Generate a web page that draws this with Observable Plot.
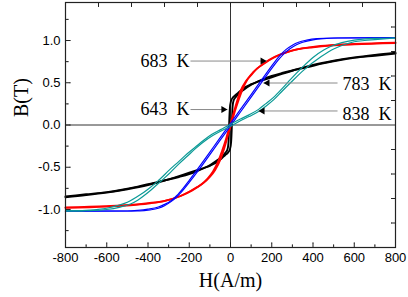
<!DOCTYPE html>
<html><head><meta charset="utf-8">
<script src="https://cdn.jsdelivr.net/npm/d3@7"></script>
<script src="https://cdn.jsdelivr.net/npm/@observablehq/plot@0.6"></script>
<style>html,body{margin:0;padding:0;background:#fff}</style>
</head><body><div id="chart"></div>
<script>
// ---- data (H in A/m, B in T) ----
const black643Desc = [[-800,-0.845],[-700,-0.82],[-600,-0.795],[-533,-0.77],[-450,-0.73],[-373,-0.685],[-300,-0.645],[-250,-0.615],[-200,-0.58],[-162,-0.545],[-120,-0.5],[-97,-0.47],[-63,-0.415],[-40,-0.37],[-25,-0.33],[-15,-0.29],[-10,-0.22],[-8,-0.1],[-6,0.05],[-3,0.2],[2,0.28],[10,0.32],[20,0.345],[32,0.37],[50,0.41],[63,0.435],[97,0.48],[130,0.51],[162,0.535],[200,0.565],[250,0.605],[323,0.66],[400,0.71],[500,0.76],[600,0.8],[700,0.83],[800,0.855]];
const black643Asc = [[-800,-0.855],[-700,-0.83],[-600,-0.8],[-500,-0.76],[-400,-0.71],[-323,-0.66],[-250,-0.605],[-200,-0.565],[-162,-0.535],[-130,-0.51],[-97,-0.48],[-63,-0.435],[-50,-0.41],[-32,-0.37],[-20,-0.345],[-10,-0.32],[-2,-0.28],[3,-0.2],[6,-0.05],[8,0.1],[10,0.22],[15,0.29],[25,0.33],[40,0.37],[63,0.415],[97,0.47],[120,0.5],[162,0.545],[200,0.58],[250,0.615],[300,0.645],[373,0.685],[450,0.73],[533,0.77],[600,0.795],[700,0.82],[800,0.845]];
const red683Desc = [[-800,-0.975],[-600,-0.96],[-485,-0.945],[-400,-0.925],[-323,-0.9],[-242,-0.84],[-190,-0.78],[-145,-0.71],[-110,-0.63],[-85,-0.55],[-60,-0.43],[-40,-0.3],[-20,-0.15],[-5,-0.02],[10,0.1],[30,0.27],[48,0.4],[75,0.52],[100,0.59],[130,0.67],[162,0.725],[200,0.785],[242,0.835],[290,0.875],[323,0.895],[400,0.925],[485,0.945],[600,0.96],[800,0.975]];
const red683Asc = [[-800,-0.98],[-600,-0.965],[-485,-0.95],[-400,-0.93],[-323,-0.9],[-290,-0.88],[-242,-0.84],[-200,-0.79],[-162,-0.735],[-130,-0.685],[-100,-0.615],[-75,-0.535],[-48,-0.405],[-30,-0.275],[-10,-0.1],[5,0.02],[20,0.15],[40,0.3],[60,0.43],[85,0.55],[110,0.625],[145,0.7],[190,0.775],[242,0.835],[323,0.895],[400,0.92],[485,0.94],[600,0.955],[800,0.97]];
const blue783Desc = [[-800,-1.02],[-500,-1.018],[-450,-1.01],[-400,-0.995],[-350,-0.97],[-320,-0.94],[-290,-0.9],[-260,-0.835],[-230,-0.75],[-200,-0.655],[-150,-0.49],[-100,-0.32],[-50,-0.15],[0,0.02],[50,0.19],[100,0.36],[150,0.53],[200,0.7],[240,0.825],[270,0.895],[300,0.945],[330,0.98],[370,1.005],[420,1.022],[500,1.03],[800,1.035]];
const blue783Asc = [[-800,-1.02],[-440,-1.018],[-390,-1.005],[-350,-0.985],[-320,-0.955],[-290,-0.91],[-260,-0.85],[-230,-0.77],[-200,-0.68],[-150,-0.52],[-100,-0.35],[-50,-0.18],[0,-0.01],[50,0.16],[100,0.33],[150,0.5],[200,0.67],[230,0.765],[260,0.845],[290,0.905],[320,0.95],[350,0.98],[400,1.008],[450,1.022],[520,1.03],[800,1.035]];
const teal838Desc = [[-800,-1.015],[-700,-1.01],[-650,-1.0],[-600,-0.985],[-550,-0.955],[-500,-0.915],[-440,-0.83],[-400,-0.76],[-355,-0.67],[-291,-0.52],[-250,-0.43],[-210,-0.34],[-170,-0.26],[-130,-0.18],[-90,-0.11],[-48,-0.055],[0,0.01],[48,0.07],[90,0.12],[136,0.185],[170,0.25],[210,0.33],[250,0.43],[291,0.54],[349,0.685],[400,0.8],[450,0.885],[485,0.93],[540,0.975],[600,1.005],[700,1.025],[800,1.03]];
const teal838Asc = [[-800,-1.02],[-700,-1.015],[-600,-1.0],[-540,-0.975],[-485,-0.935],[-450,-0.89],[-400,-0.8],[-349,-0.69],[-291,-0.56],[-250,-0.46],[-210,-0.37],[-170,-0.28],[-136,-0.21],[-90,-0.13],[-48,-0.075],[0,-0.015],[48,0.05],[90,0.1],[136,0.16],[170,0.22],[210,0.3],[250,0.4],[291,0.5],[355,0.65],[440,0.81],[500,0.9],[550,0.95],[600,0.985],[650,1.0],[700,1.01],[800,1.03]];

// annotations
const labelNames = ["683 K", "643 K", "783 K", "838 K"];
const labelSide = ["left", "left", "right", "right"];
const labelTextB = [0.757, 0.189, 0.485, 0.130];
const arrowTailH = [-194, -194, 519, 519];
const arrowTipH = [175, -15, 160, 136];
const arrowB = [0.757, 0.183, 0.497, 0.166];

// axes
const xDomain = [-800, 800];
const yDomain = [-1.45, 1.45];
const xMajorTicks = [-800, -600, -400, -200, 0, 200, 400, 600, 800];
const xMinorTicks = [-700, -500, -300, -100, 100, 300, 500, 700];
const yMajorTicks = [-1.0, -0.5, 0.0, 0.5, 1.0];
const yMinorTicks = [-1.25, -0.75, -0.25, 0.25, 0.75, 1.25];
const topTicks = [-640, -480, -320, -160, 0, 160, 320, 480, 640];
const rightTicks = [-1.16, -0.87, -0.58, -0.29, 0.29, 0.58, 0.87, 1.16];

const series = [
  {name: "643 K", color: "#000000", width: 1.9, branches: [black643Desc, black643Asc]},
  {name: "683 K", color: "#ff0000", width: 1.8, branches: [red683Desc, red683Asc]},
  {name: "783 K", color: "#0000ff", width: 1.2, branches: [blue783Desc, blue783Asc]},
  {name: "838 K", color: "#0a9a96", width: 1.2, branches: [teal838Desc, teal838Asc]}
];

const rows = series.flatMap(s => s.branches.flatMap((b, bi) =>
  b.map(([H, B]) => ({H, B, name: s.name, key: s.name + "-" + bi}))));

const ann = labelNames.map((t, i) => ({
  text: t.replace(" ", "\u00a0 "), side: labelSide[i],
  tb: labelTextB[i], tail: arrowTailH[i], tip: arrowTipH[i], ab: arrowB[i]
}));
const annL = ann.filter(d => d.side === "left");
const annR = ann.filter(d => d.side === "right");

const tickMark = (data, opts) => Plot.vector(data, {anchor: "start", r: 0, stroke: "#222", strokeWidth: 1, ...opts});
const serif = "'Liberation Serif', 'Times New Roman', serif";

const chart = Plot.plot({
  width: 408, height: 297,
  marginLeft: 65, marginRight: 13, marginTop: 2, marginBottom: 50,
  x: {domain: xDomain},
  y: {domain: yDomain},
  style: {fontFamily: "'Liberation Sans', Arial, sans-serif", fontSize: "13px", background: "#fff", color: "#000"},
  marks: [
    Plot.ruleX([0], {stroke: "#333", strokeWidth: 1}),
    Plot.ruleY([0], {stroke: "#333", strokeWidth: 1}),
    ...series.map(s => Plot.line(rows.filter(r => r.name === s.name), {
      x: "H", y: "B", z: "key", stroke: s.color, strokeWidth: s.width, curve: "monotone-x"
    })),
    Plot.link(ann, {x1: "tail", x2: "tip", y1: "ab", y2: "ab", stroke: "#8a8a8a", strokeWidth: 1}),
    Plot.dot(annL, {x: "tip", y: "ab", symbol: "triangle", r: 2.6, fill: "#000", stroke: null, rotate: 90, dx: -4}),
    Plot.dot(annR, {x: "tip", y: "ab", symbol: "triangle", r: 2.6, fill: "#000", stroke: null, rotate: -90, dx: 4}),
    Plot.text(annL, {x: "tail", y: "tb", text: "text", textAnchor: "end", dx: -1, fontFamily: serif, fontSize: 18, fill: "#000"}),
    Plot.text(annR, {x: "tail", y: "tb", text: "text", textAnchor: "start", dx: 5, fontFamily: serif, fontSize: 18, fill: "#000"}),
    Plot.frame({stroke: "#222", strokeWidth: 1.2}),
    tickMark(xMajorTicks, {x: d => d, y: yDomain[0], length: 4.5, rotate: 0}),
    tickMark(xMinorTicks, {x: d => d, y: yDomain[0], length: 2.5, rotate: 0}),
    tickMark(topTicks, {x: d => d, y: yDomain[1], length: 4, rotate: 180}),
    tickMark(yMajorTicks, {y: d => d, x: xDomain[0], length: 4.5, rotate: 90}),
    tickMark(yMinorTicks, {y: d => d, x: xDomain[0], length: 2.5, rotate: 90}),
    tickMark(rightTicks, {y: d => d, x: xDomain[1], length: 4, rotate: -90}),
    Plot.axisX({ticks: xMajorTicks, tickSize: 0, tickPadding: 5, tickFormat: d => String(d), label: null, fontSize: 13}),
    Plot.axisY({ticks: yMajorTicks, tickSize: 0, tickPadding: 5, tickFormat: d => d.toFixed(1), label: null, fontSize: 13}),
    Plot.text(["H(A/m)"], {frameAnchor: "bottom", dy: 39, text: d => d, fontFamily: serif, fontSize: 20, fill: "#000"}),
    Plot.text(["B(T)"], {frameAnchor: "left", dx: -44, dy: -8, rotate: -90, text: d => d, fontFamily: serif, fontSize: 20, fill: "#000"})
  ]
});
document.getElementById("chart").appendChild(chart);
</script>
</body></html>
